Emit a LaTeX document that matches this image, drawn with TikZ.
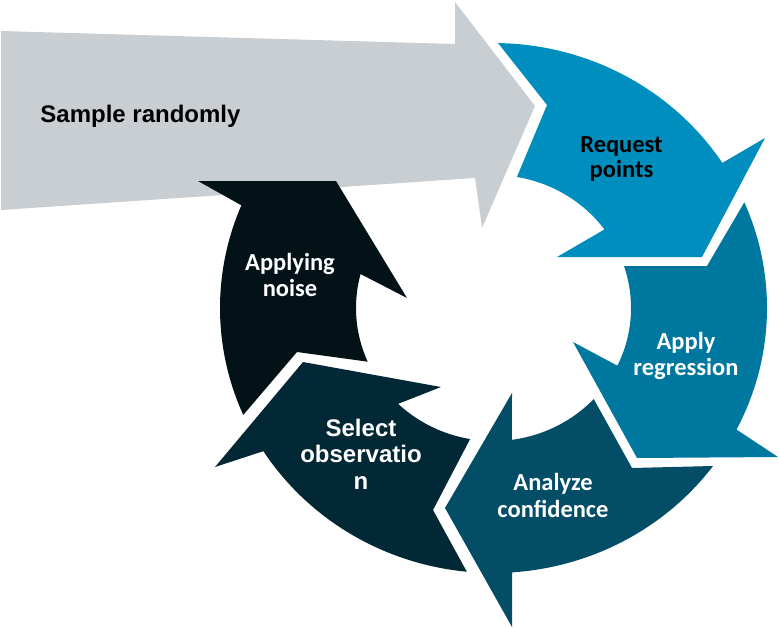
\documentclass[tikz,border=0pt]{standalone}
\usepackage{fontspec}
\setmainfont{Carlito}
\newfontfamily\arialfont{Liberation Sans}

\definecolor{entrygrey}{HTML}{C9CED2}
\definecolor{requestblue}{HTML}{008EBE}
\definecolor{regressblue}{HTML}{00779E}
\definecolor{analyzeblue}{HTML}{034D66}
\definecolor{selectblue}{HTML}{022836}
\definecolor{noiseblack}{HTML}{021216}

\tikzset{
  steplabel/.style={anchor=base, align=center, text=white, font=\bfseries\fontsize{24.5}{26}\selectfont},
}

\begin{document}
\begin{tikzpicture}[x=1pt, y=-1pt, samples=60]
\useasboundingbox (0,0) rectangle (779,627);

% entry arrow
\fill[entrygrey] (1,31) -- (455,44) -- (455,2) -- (535,106) -- (482,228) -- (475,178) -- (1,210) -- cycle;

% cycle arrows, outer ring 273.5 x 265, inner ring 137.5 x 133
\fill[requestblue] plot[domain=-89.05:-33.2] ({493.5+273.5*cos(\x)}, {308+265*sin(\x)})
  -- (765,138) -- (702,257) -- (557,257)
  -- plot[domain=-36.2:-80.2] ({493.5+137.5*cos(\x)}, {308+133*sin(\x)})
  -- (547,105) -- cycle;
\fill[regressblue] plot[domain=-23.5:27.3] ({493.5+273.5*cos(\x)}, {308+265*sin(\x)})
  -- (778,457) -- (637,458) -- (573,342)
  -- plot[domain=25.7:-18.4] ({493.5+137.5*cos(\x)}, {308+133*sin(\x)})
  -- (707,266) -- cycle;
\fill[analyzeblue] plot[domain=36.6:86.1] ({493.5+273.5*cos(\x)}, {308+265*sin(\x)})
  -- (512,627) -- (445,508) -- (512,393)
  -- plot[domain=82.3:43.2] ({493.5+137.5*cos(\x)}, {308+133*sin(\x)})
  -- (632,468) -- cycle;
\fill[selectblue] plot[domain=95.6:147.3] ({493.5+273.5*cos(\x)}, {308+265*sin(\x)})
  -- (215,467) -- (303,362) -- (441,387)
  -- plot[domain=133.9:99.8] ({493.5+137.5*cos(\x)}, {308+133*sin(\x)})
  -- (433,510) -- cycle;
\fill[noiseblack] plot[domain=156.2:202.8] ({493.5+273.5*cos(\x)}, {308+265*sin(\x)})
  -- (198,181) -- (336,181) -- (407,298)
  -- plot[domain=194.8:156.2] ({493.5+137.5*cos(\x)}, {308+133*sin(\x)})
  -- (297,352) -- cycle;

% labels, placed at the baseline of their last line
\node[anchor=base, font=\arialfont\bfseries\fontsize{24}{26}\selectfont] (sample) at (140.5,122) {Sample randomly};
\node[steplabel, text=black, font=\bfseries\fontsize{24.5}{25}\selectfont] (request) at (621.5,177) {Request\\points};
\node[steplabel] (regress) at (686,375) {Apply\\regression};
\node[steplabel, font=\bfseries\fontsize{24.5}{27}\selectfont] (analyze) at (553,517) {Analyze\\confidence};
\node[steplabel, font=\arialfont\bfseries\fontsize{24}{26.5}\selectfont] (select) at (361,489) {Select\\observatio\\n};
\node[steplabel] (noise) at (290,296) {Applying\\noise};
\end{tikzpicture}
\end{document}
